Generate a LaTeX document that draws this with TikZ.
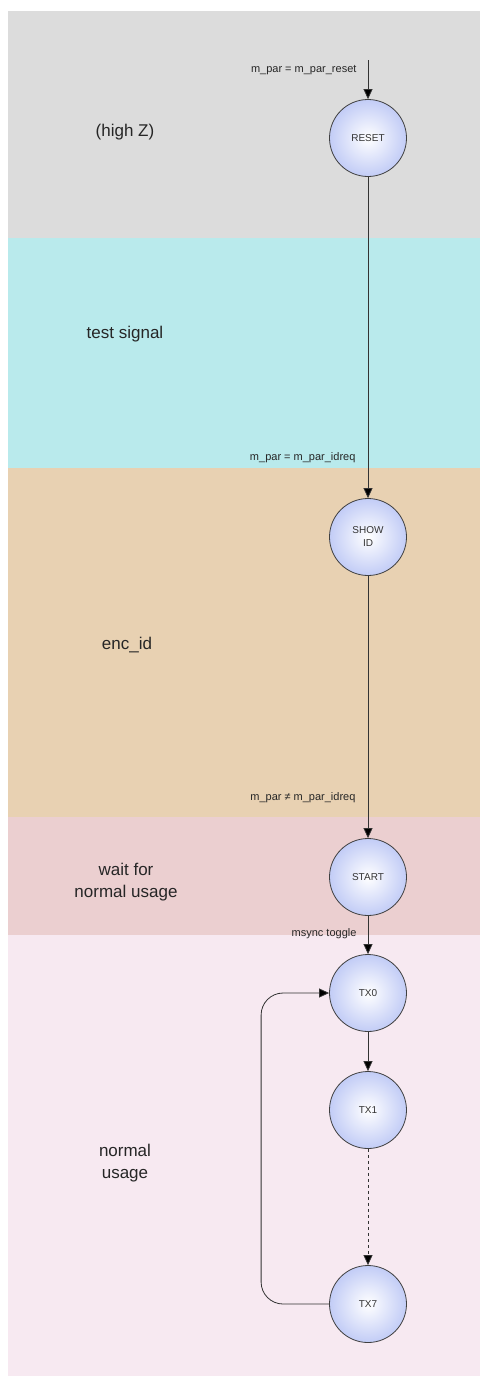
\documentclass[tikz,border=0pt]{standalone}
\usepackage{fontspec}
\setmainfont{Liberation Sans}
\usetikzlibrary{arrows.meta}

\definecolor{bggray}{HTML}{DCDCDC}
\definecolor{bgcyan}{HTML}{B9EAEC}
\definecolor{bgtan}{HTML}{E8D1B2}
\definecolor{bgpink}{HTML}{EBCFD0}
\definecolor{bgrose}{HTML}{F7E9F1}
\definecolor{stateblue}{HTML}{C2CCF6}

\begin{document}
\begin{tikzpicture}[x=1pt,y=-1pt,
  state/.style={circle,draw=black!75,line width=0.8pt,inner sep=0pt,
    minimum size=77pt,inner color=white,outer color=stateblue,
    font=\fontsize{10}{13}\selectfont,align=center,text=black!80},
  cond/.style={font=\fontsize{11}{13}\selectfont,anchor=east,text=black!85},
  phase/.style={font=\fontsize{17}{21.5}\selectfont,align=center,text=black!85},
  trans/.style={draw=black!80,line width=0.8pt,-{Triangle[length=10pt,width=9pt,fill=black]}}]

\useasboundingbox (0,0) rectangle (480,1376);
\fill[white] (0,0) rectangle (480,1376);

\fill[bggray] (8,11) rectangle (480,238);
\fill[bgcyan] (8,238) rectangle (480,468);
\fill[bgtan] (8,468) rectangle (480,817);
\fill[bgpink] (8,817) rectangle (480,935);
\fill[bgrose] (8,935) rectangle (480,1376);

\node[phase] (pz) at (125,132) {(high Z)};
\node[phase] (ptest) at (125,334) {test signal};
\node[phase] (penc) at (127,645) {enc\_id};
\node[phase] (pwait) at (126,882) {wait for\\normal usage};
\node[phase] (pnorm) at (125,1163) {normal\\usage};

\node[state] (reset) at (368,138) {RESET};
\node[state] (show) at (368,537) {SHOW\\ID};
\node[state] (start) at (368,877) {START};
\node[state] (tx0) at (368,993) {TX0};
\node[state] (tx1) at (368,1110) {TX1};
\node[state] (tx7) at (368,1304) {TX7};

\coordinate (init) at (368,60);

\draw[trans] (init) -- (reset);
\draw[trans] (reset) -- (show);
\draw[trans] (show) -- (start);
\draw[trans] (start) -- (tx0);
\draw[trans] (tx0) -- (tx1);
\draw[trans,dashed] (tx1) -- (tx7);
\draw[trans,rounded corners=22pt] (tx7.west) -- ++(-68,0) |- (tx0.west);

\node[cond] (c1) at (360,70) {m\_par = m\_par\_reset};
\node[cond] (c2) at (359,458) {m\_par = m\_par\_idreq};
\node[cond] (c3) at (359,798) {m\_par ≠ m\_par\_idreq};
\node[cond] (c4) at (360,934) {msync toggle};

\end{tikzpicture}
\end{document}
